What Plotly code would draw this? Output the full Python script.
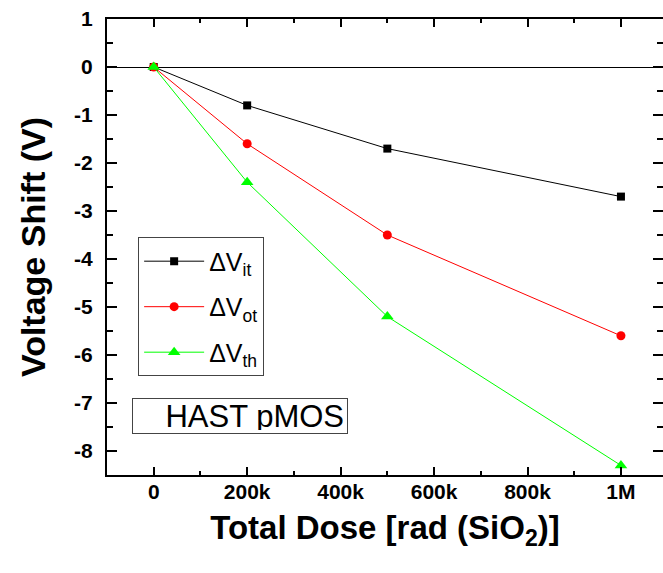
import plotly.graph_objects as go

# Total dose steps (rad, SiO2) and measured voltage shifts (V)
dose = [0, 200000, 500000, 1000000]
dv_it = [0, -0.8, -1.7, -2.7]
dv_ot = [0, -1.6, -3.5, -5.6]
dv_th = [0, -2.4, -5.2, -8.3]

x_tickvals = [0, 200000, 400000, 600000, 800000, 1000000]
x_ticktext = ["0", "200k", "400k", "600k", "800k", "1M"]
y_tickvals = [-8, -7, -6, -5, -4, -3, -2, -1, 0, 1]
y_ticktext = ["-8", "-7", "-6", "-5", "-4", "-3", "-2", "-1", "0", "1"]

FONT = "Arial, Liberation Sans, Helvetica, sans-serif"

fig = go.Figure()

series = [
    ("ΔV<sub>it</sub>", dv_it, "#000000", "square", 8),
    ("ΔV<sub>ot</sub>", dv_ot, "#FF0000", "circle", 9),
    ("ΔV<sub>th</sub>", dv_th, "#00FF00", "triangle-up", 11),
]
for i, (name, vals, color, sym, size) in enumerate(series):
    fig.add_trace(go.Scatter(
        x=dose, y=vals, name=name, mode="lines+markers",
        line=dict(color=color, width=1),
        marker=dict(color=color, symbol=sym, size=size, line=dict(width=0)),
        legendgroup=f"g{i}",
    ))

axis_common = dict(
    showline=True, linecolor="black", linewidth=2,
    mirror="ticks", ticks="inside", tickcolor="black", tickwidth=2,
    showgrid=False,
    tickfont=dict(family=FONT, size=21, color="black", weight="bold"),
)

fig.update_xaxes(
    **axis_common,
    range=[-100000, 1090000],
    tickvals=x_tickvals, ticktext=x_ticktext,
    ticklen=8,
    minor=dict(dtick=100000, tick0=0, ticks="inside", ticklen=4,
               tickwidth=2, tickcolor="black"),
    zeroline=False,
    title=dict(text="Total Dose [rad (SiO<sub>2</sub>)]",
               font=dict(family=FONT, size=33, color="black", weight="bold"),
               standoff=14),
    ticklabelstandoff=-3,
)
fig.update_yaxes(
    **axis_common,
    range=[-8.5, 1],
    tickvals=y_tickvals, ticktext=y_ticktext,
    ticklen=10,
    minor=dict(dtick=0.5, tick0=0, ticks="inside", ticklen=6,
               tickwidth=2, tickcolor="black"),
    zeroline=True, zerolinecolor="black", zerolinewidth=1,
    title=dict(text="Voltage Shift (V)",
               font=dict(family=FONT, size=34, color="black", weight="bold"),
               standoff=18),
    ticklabelstandoff=8,
)

fig.add_annotation(
    text="HAST pMOS", xref="paper", yref="paper",
    x=0.239, y=0.129, xanchor="center", yanchor="middle",
    showarrow=False, align="right",
    width=208, height=28, borderpad=3,
    bordercolor="#444444", borderwidth=1, bgcolor="white",
    font=dict(family=FONT, size=31, color="black"),
)

fig.update_layout(
    width=663, height=573,
    margin=dict(l=107, r=0, t=19, b=98, autoexpand=False),
    paper_bgcolor="white", plot_bgcolor="white",
    showlegend=True,
    legend=dict(
        x=0.056, y=0.521, xanchor="left", yanchor="top",
        bordercolor="#444444", borderwidth=1, bgcolor="white",
        font=dict(family=FONT, size=25, color="black"),
        tracegroupgap=10, traceorder="grouped",
        itemwidth=60,
    ),
)

fig.write_html("out.html")
